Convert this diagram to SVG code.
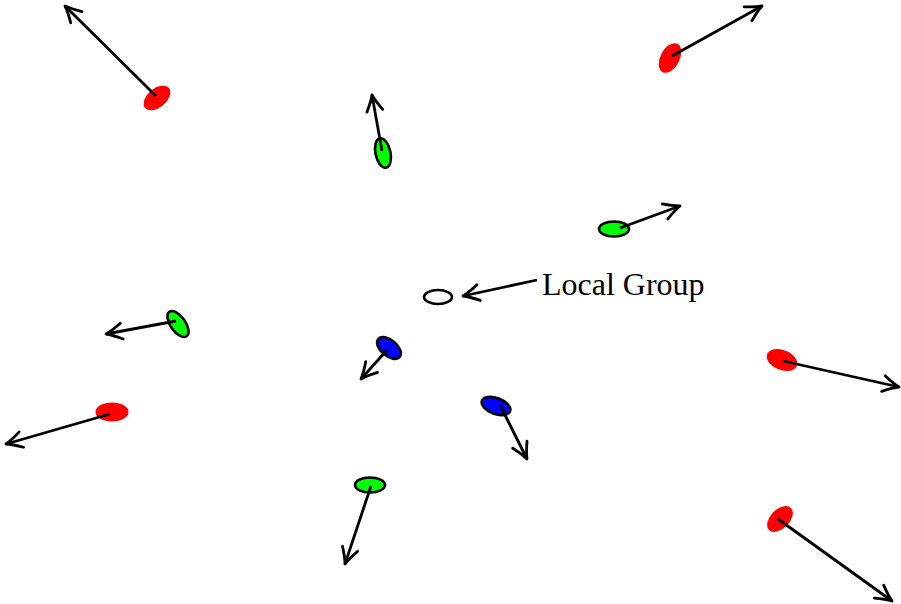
<svg xmlns="http://www.w3.org/2000/svg" width="901" height="604" viewBox="0 0 901 604">
<defs>
<marker id="ah" markerUnits="userSpaceOnUse" markerWidth="30" markerHeight="30" refX="0" refY="0" viewBox="-20 -15 30 30" orient="auto" overflow="visible">
<path d="M-16,-8 Q-6,-2 0,0 Q-6,2 -16,8" fill="none" stroke="#000" stroke-width="2.8" stroke-linecap="round" stroke-linejoin="round"/>
</marker>
</defs>
<style>
.red{fill:#ff0000;stroke:none}
.green{fill:#00ff00;stroke:#000;stroke-width:2.6}
.blue{fill:#0000ff;stroke:#000;stroke-width:2.6}
.white{fill:#fff;stroke:#000;stroke-width:2.6}
.arr{stroke:#000;stroke-width:2.8;fill:none;marker-end:url(#ah)}
.lbl{font-family:"Liberation Serif","Times New Roman",serif;font-size:32px;fill:#000}
</style>
<g id="nodes">
<g id="red1"><ellipse class="red" cx="157" cy="98" rx="15.5" ry="9.5" transform="rotate(-40 157 98)"/></g>
<g id="red2"><ellipse class="red" cx="670" cy="58" rx="16" ry="9.5" transform="rotate(-62 670 58)"/></g>
<g id="green1"><ellipse class="green" cx="383" cy="153" rx="7.5" ry="15" transform="rotate(-12 383 153)"/></g>
<g id="green2"><ellipse class="green" cx="614" cy="229" rx="15" ry="7.5"/></g>
<g id="localgroup"><ellipse class="white" cx="438" cy="297" rx="14" ry="7"/><text class="lbl" x="542" y="295">Local Group</text></g>
<g id="green3"><ellipse class="green" cx="178" cy="324" rx="7.5" ry="15" transform="rotate(-35 178 324)"/></g>
<g id="blue1"><ellipse class="blue" cx="389" cy="348" rx="14" ry="8" transform="rotate(40 389 348)"/></g>
<g id="blue2"><ellipse class="blue" cx="496" cy="406" rx="15" ry="8" transform="rotate(20 496 406)"/></g>
<g id="green4"><ellipse class="green" cx="370" cy="485" rx="15" ry="7.5"/></g>
<g id="red3"><ellipse class="red" cx="782" cy="360" rx="16" ry="10" transform="rotate(22 782 360)"/></g>
<g id="red4"><ellipse class="red" cx="112" cy="412" rx="16.5" ry="9.5"/></g>
<g id="red5"><ellipse class="red" cx="780" cy="519" rx="15.5" ry="9.5" transform="rotate(-45 780 519)"/></g>
</g>
<g id="connectors">
<line class="arr" x1="156" y1="96" x2="65" y2="6"/>
<line class="arr" x1="672" y1="56" x2="762" y2="6"/>
<line class="arr" x1="382" y1="151" x2="372" y2="95"/>
<line class="arr" x1="620" y1="228" x2="680" y2="206"/>
<line class="arr" x1="537" y1="280" x2="463" y2="296"/>
<line class="arr" x1="176" y1="321" x2="106" y2="334"/>
<line class="arr" x1="387" y1="350" x2="361" y2="379"/>
<line class="arr" x1="500" y1="405" x2="527" y2="459"/>
<line class="arr" x1="371" y1="486" x2="345" y2="564"/>
<line class="arr" x1="783" y1="361" x2="899" y2="387"/>
<line class="arr" x1="110" y1="414" x2="6" y2="444"/>
<line class="arr" x1="778" y1="519" x2="892" y2="601"/>
</g>
</svg>
